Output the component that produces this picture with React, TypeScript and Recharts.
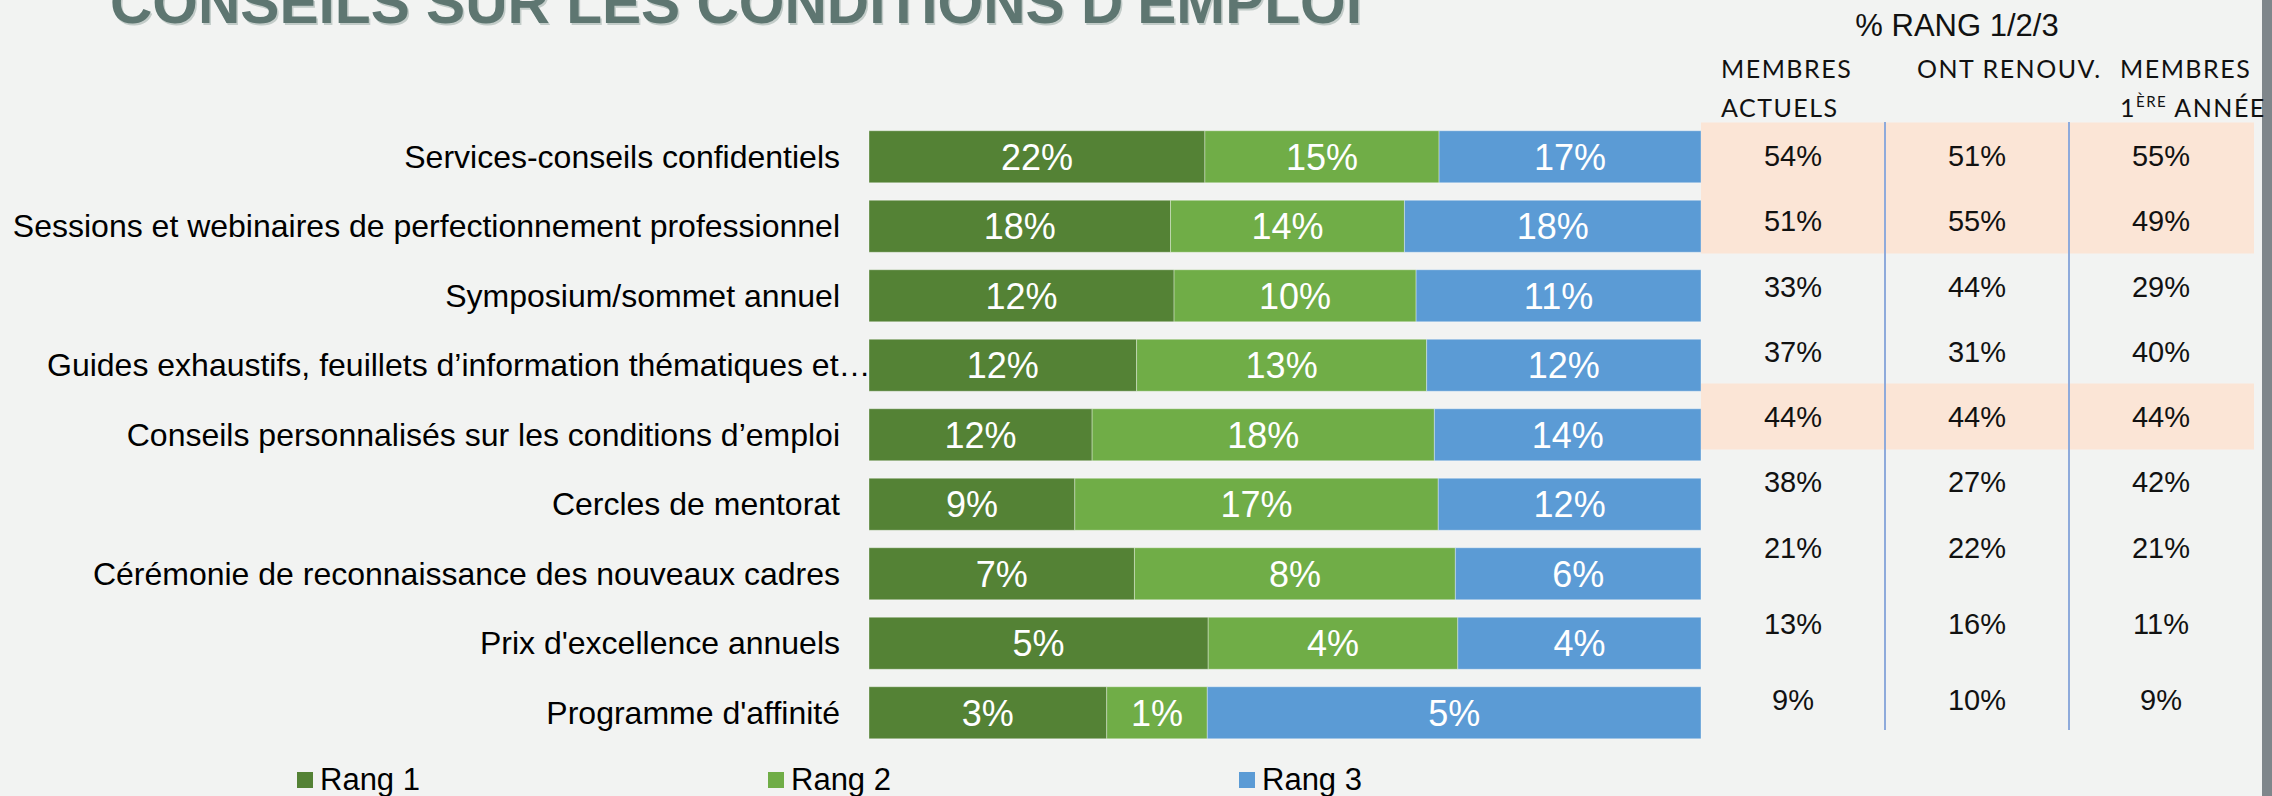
import React from "react";
import { BarChart, Bar, XAxis, YAxis, Legend, LabelList } from "recharts";

// categories (top to bottom)
const categories = [
  "Services-conseils confidentiels",
  "Sessions et webinaires de perfectionnement professionnel",
  "Symposium/sommet annuel",
  "Guides exhaustifs, feuillets d’information thématiques et…",
  "Conseils personnalisés sur les conditions d’emploi",
  "Cercles de mentorat",
  "Cérémonie de reconnaissance des nouveaux cadres",
  "Prix d'excellence annuels",
  "Programme d'affinité",
];

// % of respondents ranking the service 1st / 2nd / 3rd
const rang1 = [21.8, 18.3, 12.1, 11.9, 11.8, 9.4, 6.7, 5.3, 2.6];
const rang2 = [15.2, 14.2, 9.6, 12.9, 18.1, 16.6, 8.1, 3.9, 1.1];
const rang3 = [17.0, 18.0, 11.3, 12.2, 14.1, 12.0, 6.2, 3.8, 5.4];
const seriesNames = ["Rang 1", "Rang 2", "Rang 3"];

// side table: % rang 1/2/3 by member group
const membresActuels = [54, 51, 33, 37, 44, 38, 21, 13, 9];
const ontRenouv = [51, 55, 44, 31, 44, 27, 22, 16, 10];
const membres1reAnnee = [55, 49, 29, 40, 44, 42, 21, 11, 9];
const highlightRows = [0, 1, 4];

const title = "CONSEILS SUR LES CONDITIONS D'EMPLOI";
const tableTitle = "% RANG 1/2/3";

const W = 2272;
const H = 796;
const BG = "#f2f3f2";
const FONT = "'Liberation Sans', Arial, sans-serif";
const HEAD_FONT = "Lato, 'Open Sans', sans-serif";
const COLORS = ["#548235", "#70ad47", "#5b9bd5"];

// table layout
const colX = [1793, 1977, 2161];
const rowY = [155.5, 220.5, 287, 352, 416.5, 482, 548, 624, 700];

const rows = categories.map((label, i) => ({
  label,
  r1: rang1[i],
  r2: rang2[i],
  r3: rang3[i],
}));

const pct = (v: any) => `${Math.round(Number(v))}%`;

function CategoryTick({ x, y, payload }: any) {
  const text: string = payload.value;
  // truncated label runs from the left edge of the label area
  const cut = text.endsWith("…");
  return (
    <text
      x={cut ? 47 : x}
      y={y}
      textAnchor={cut ? "start" : "end"}
      dominantBaseline="central"
      fontSize={32}
      fontFamily={FONT}
      fill="#000"
    >
      {text}
    </text>
  );
}

function LegendContent({ payload }: any) {
  return (
    <div style={{ display: "flex", paddingLeft: 297 }}>
      {(payload || []).map((p: any) => (
        <div key={p.value} style={{ width: 471, display: "flex", alignItems: "center" }}>
          <span style={{ width: 16, height: 16, background: p.color, marginRight: 7, display: "inline-block" }} />
          <span style={{ fontSize: 31, fontFamily: FONT, color: "#000", lineHeight: "36px" }}>{p.value}</span>
        </div>
      ))}
    </div>
  );
}

function SideTable() {
  const cols = [membresActuels, ontRenouv, membres1reAnnee];
  return (
    <svg width={W} height={H} style={{ position: "absolute", left: 0, top: 0, pointerEvents: "none" }}>
      {/* title, cut off at the top of the slide */}
      <text x={111.5} y={24.5} fontSize={59} fontWeight="bold" fontFamily={FONT} fill="#c3ccc9"
        textLength={1252} lengthAdjust="spacingAndGlyphs">
        {title}
      </text>
      <text x={110} y={23} fontSize={59} fontWeight="bold" fontFamily={FONT} fill="#5e7671"
        textLength={1252} lengthAdjust="spacingAndGlyphs">
        {title}
      </text>

      {highlightRows.map((r) => (
        <rect key={r} x={1701} y={rowY[r] - 33} width={553} height={66} fill="#fbe5d6" />
      ))}
      <line x1={1885} x2={1885} y1={122} y2={730} stroke="#8eaadb" strokeWidth={2} />
      <line x1={2069} x2={2069} y1={122} y2={730} stroke="#8eaadb" strokeWidth={2} />
      <rect x={2262} y={0} width={10} height={H} fill="#7f868b" />

      <text x={1957} y={36} textAnchor="middle" fontSize={31} fontFamily={FONT} fill="#111">
        {tableTitle}
      </text>
      <g fontSize={25} fontFamily={HEAD_FONT} fill="#111" letterSpacing={1.5}>
        <text x={1721} y={78}>MEMBRES</text>
        <text x={1721} y={117}>ACTUELS</text>
        <text x={1917} y={78}>ONT RENOUV.</text>
        <text x={2120} y={78}>MEMBRES</text>
        <text x={2120} y={117}>
          1<tspan fontSize={15} dy={-10}>ÈRE</tspan>
          <tspan dy={10}> ANNÉE</tspan>
        </text>
      </g>

      {cols.map((vals, c) =>
        vals.map((v, r) => (
          <text
            key={`${c}-${r}`}
            x={colX[c]}
            y={rowY[r]}
            textAnchor="middle"
            dominantBaseline="central"
            fontSize={29}
            fontFamily={FONT}
            fill="#111"
          >
            {v}%
          </text>
        ))
      )}
    </svg>
  );
}

export default function App() {
  return (
    <div style={{ position: "absolute", left: 0, top: 0, width: W, height: H, background: BG, overflow: "hidden" }}>
      <BarChart
        width={W}
        height={H}
        data={rows}
        layout="vertical"
        stackOffset="expand"
        barSize={52}
        margin={{ top: 121.75, right: 571, bottom: 48.75, left: 0 }}
      >
        <XAxis type="number" domain={[0, 1]} hide />
        <YAxis
          type="category"
          dataKey="label"
          width={869}
          interval={0}
          axisLine={false}
          tickLine={false}
          tickSize={0}
          tickMargin={29}
          tick={<CategoryTick />}
        />
        <Legend
          layout="vertical"
          align="center"
          verticalAlign="middle"
          wrapperStyle={{ left: 0, top: 762, width: W }}
          content={<LegendContent />}
        />
        {["r1", "r2", "r3"].map((key, i) => (
          <Bar
            key={key}
            dataKey={key}
            name={seriesNames[i]}
            stackId="a"
            fill={COLORS[i]}
            stroke="rgba(255,255,255,0.35)"
            strokeWidth={1}
            isAnimationActive={false}
          >
            <LabelList
              dataKey={key}
              position="center"
              formatter={pct}
              fill="#fff"
              fontSize={36}
              fontFamily={FONT}
            />
          </Bar>
        ))}
      </BarChart>
      <SideTable />
    </div>
  );
}
